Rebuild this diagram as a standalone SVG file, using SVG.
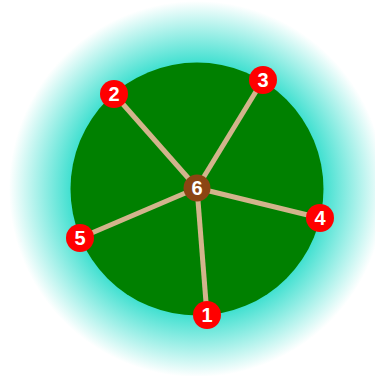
<svg xmlns="http://www.w3.org/2000/svg" width="375" height="376" viewBox="0 0 375 376">
<style>
.edge{stroke:#D2B48C;stroke-width:5;fill:none}
.leaf{fill:#FF0000}
.hub{fill:#8B4513}
.lbl{fill:#FFFFFF;font-family:"Liberation Sans",Arial,sans-serif;font-weight:bold;font-size:20px;text-anchor:middle;dominant-baseline:central}
</style>
<defs>
<radialGradient id="halo" gradientUnits="userSpaceOnUse" cx="197" cy="189" r="188">
<stop offset="0" stop-color="#40E0D0"/>
<stop offset="0.67" stop-color="#40E0D0"/>
<stop offset="1" stop-color="#FFFFFF"/>
</radialGradient>
</defs>
<rect width="375" height="376" fill="#FFFFFF"/>
<circle cx="197" cy="189" r="188" fill="url(#halo)"/>
<circle cx="197" cy="189" r="126.5" fill="#008000"/>
<g id="connectors">
<line class="edge" x1="197" y1="188" x2="207" y2="315"/>
<line class="edge" x1="197" y1="188" x2="114" y2="94"/>
<line class="edge" x1="197" y1="188" x2="263" y2="80"/>
<line class="edge" x1="197" y1="188" x2="320" y2="218"/>
<line class="edge" x1="197" y1="188" x2="80" y2="238"/>
</g>
<g id="node6"><circle class="hub" cx="197" cy="188" r="13.5"/><text class="lbl" x="197" y="188">6</text></g>
<g id="node1"><circle class="leaf" cx="207" cy="315" r="14"/><text class="lbl" x="207" y="315">1</text></g>
<g id="node2"><circle class="leaf" cx="114" cy="94" r="14"/><text class="lbl" x="114" y="94">2</text></g>
<g id="node3"><circle class="leaf" cx="263" cy="80" r="14"/><text class="lbl" x="263" y="80">3</text></g>
<g id="node4"><circle class="leaf" cx="320" cy="218" r="14"/><text class="lbl" x="320" y="218">4</text></g>
<g id="node5"><circle class="leaf" cx="80" cy="238" r="14"/><text class="lbl" x="80" y="238">5</text></g>
</svg>
